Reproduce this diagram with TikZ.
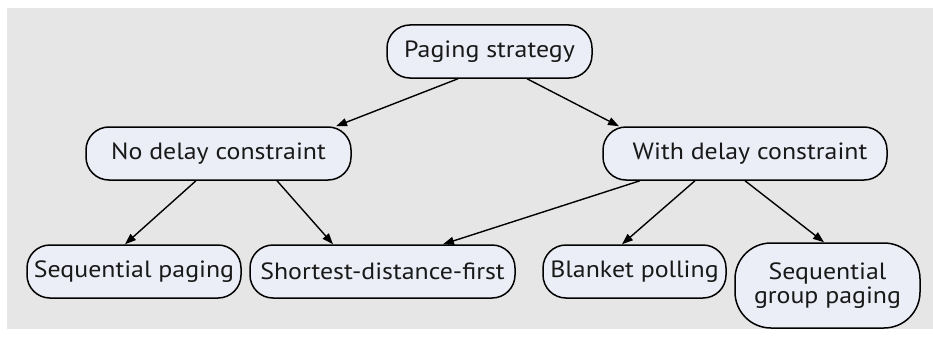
\documentclass[tikz,border=0pt]{standalone}
\usepackage{fontspec}
\setmainfont[FakeStretch=1.1]{PT Sans}
\usetikzlibrary{arrows.meta}
\definecolor{panel}{HTML}{E6E6E6}
\definecolor{boxfill}{HTML}{ECEEF7}
\begin{document}
\begin{tikzpicture}[x=1pt,y=-1pt,
  box/.style={draw=black, line width=1.5pt, fill=boxfill, rounded corners=23pt,
    minimum height=53pt, inner sep=0pt, align=center,
    font=\fontsize{23.5}{24}\selectfont, text=black!90},
  link/.style={draw=black, line width=1.4pt, -{Triangle[length=11pt,width=8pt]}}]
  \useasboundingbox (0,0) rectangle (933,337);
  \fill[panel] (7,8) rectangle (933,329);

  \node[box, minimum width=205pt] (root) at (489.5,51.5) {Paging strategy};
  \node[box, minimum width=265pt] (nodelay) at (218.5,153.5) {No delay constraint};
  \node[box, minimum width=284pt] (withdelay) at (745,153.5) {\hspace*{10pt}With delay constraint};
  \node[box, minimum width=214pt] (seq) at (134,271.5) {Sequential paging};
  \node[box, minimum width=265pt] (sdf) at (382.5,271.5) {Shortest-distance-first};
  \node[box, minimum width=183pt] (blanket) at (634.5,271.5) {Blanket polling};
  \node[box, minimum width=185pt, minimum height=85pt, rounded corners=36pt] (group) at (827.5,285.5) {Sequential\\group paging};

  \draw[link] (root.south -| 458,0) -- (nodelay.north -| 336,0);
  \draw[link] (root.south -| 527,0) -- (withdelay.north -| 619,0);
  \draw[link] (nodelay.south -| 196,0) -- (seq.north -| 125,0);
  \draw[link] (nodelay.south -| 277,0) -- (sdf.north -| 333,0);
  \draw[link] (withdelay.south -| 640,0) -- (sdf.north -| 443,0);
  \draw[link] (withdelay.south -| 695,0) -- (blanket.north -| 622,0);
  \draw[link] (withdelay.south -| 745,0) -- (group.north -| 824,0);
\end{tikzpicture}
\end{document}
